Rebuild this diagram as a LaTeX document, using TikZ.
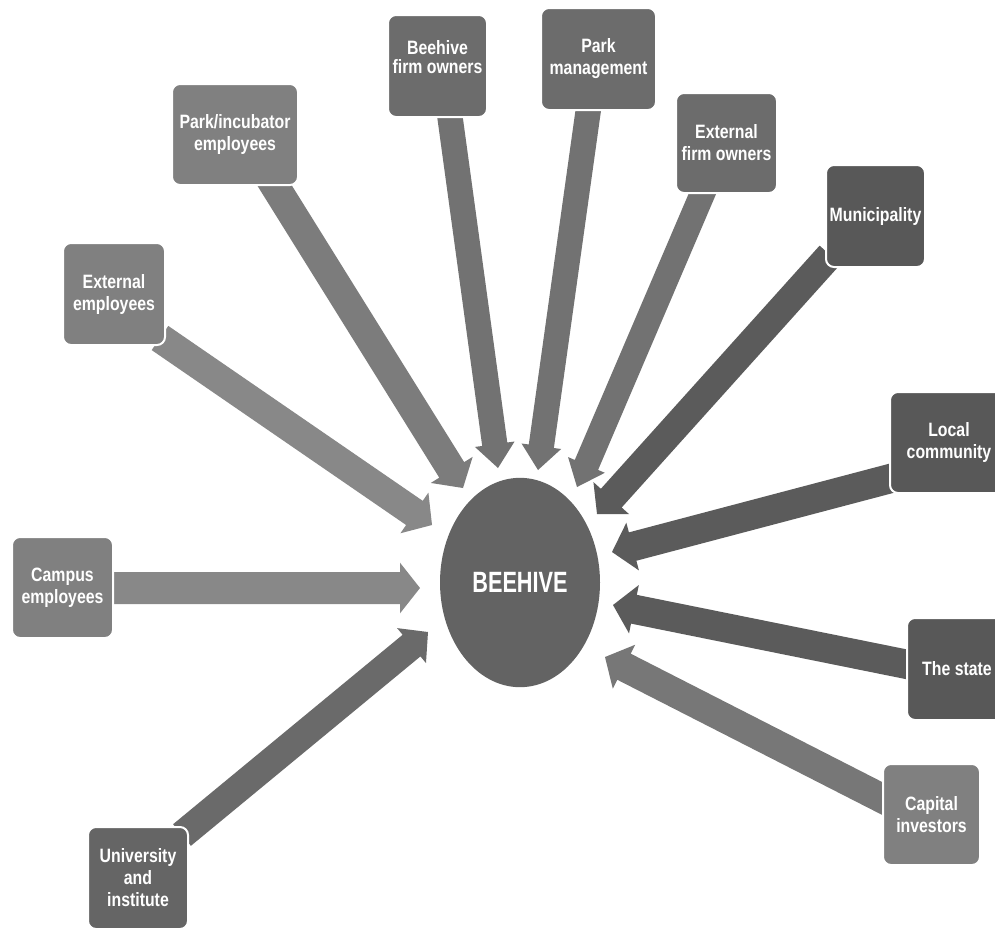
\documentclass[tikz,border=0pt]{standalone}
\usepackage{fontspec}
\newfontfamily\bxf{Liberation Sans}[FakeStretch=0.82]
\newfontfamily\hvf{Liberation Sans}[FakeStretch=0.74]
\usetikzlibrary{calc,shapes.geometric}
\definecolor{bLight}{HTML}{808080}
\definecolor{bMid}{HTML}{6C6C6C}
\definecolor{bUni}{HTML}{656565}
\definecolor{bDark}{HTML}{585858}
\definecolor{hive}{HTML}{636363}
\definecolor{aLight}{HTML}{888888}
\definecolor{aPI}{HTML}{7C7C7C}
\definecolor{aCI}{HTML}{777777}
\definecolor{aMid}{HTML}{727272}
\definecolor{aDark}{HTML}{5B5B5B}
\definecolor{aUni}{HTML}{6A6A6A}
% #1 fill colour, #2 tail, #3 tip, #4 half shaft, #5 half head, #6 head length
\newcommand\blockarrow[6]{%
  \coordinate (ba-b) at ($(#3)!#6!(#2)$);
  \fill[#1] ($(#2)!#4!90:(#3)$) -- ($(ba-b)!#4!90:(#3)$) -- ($(ba-b)!#5!90:(#3)$)
    -- (#3) -- ($(ba-b)!#5!-90:(#3)$) -- ($(ba-b)!#4!-90:(#3)$)
    -- ($(#2)!#4!-90:(#3)$) -- cycle;}
\begin{document}
\begin{tikzpicture}[x=0.75pt,y=0.75pt,
  box/.style={draw=white, line width=1.5pt, rounded corners=6pt, text=white,
    align=center, inner sep=0pt, minimum width=75pt, minimum height=76pt,
    font=\bxf\bfseries\fontsize{14.5}{16.5}\selectfont}]
\clip (0,0) rectangle (995,-929);
\fill[white] (0,0) rectangle (995,-929);

% arrow ends
\coordinate (t-bfo) at (449,-110);  \coordinate (h-bfo) at (498,-468);
\coordinate (t-pm)  at (589,-105);  \coordinate (h-pm)  at (538,-470);
\coordinate (t-efo) at (707,-183);  \coordinate (h-efo) at (577,-487);
\coordinate (t-mun) at (830,-255);  \coordinate (h-mun) at (597,-514);
\coordinate (t-lc)  at (900,-476);  \coordinate (h-lc)  at (612,-552);
\coordinate (t-ts)  at (915,-666);  \coordinate (h-ts)  at (613,-605);
\coordinate (t-ci)  at (895,-805);  \coordinate (h-ci)  at (605,-657);
\coordinate (t-ui)  at (182,-835);  \coordinate (h-ui)  at (428,-632);
\coordinate (t-ce)  at (105,-588);  \coordinate (h-ce)  at (420,-588);
\coordinate (t-ee)  at (160,-338);  \coordinate (h-ee)  at (432,-525);
\coordinate (t-pi)  at (268,-175);  \coordinate (h-pi)  at (463,-488);

% arrows
\blockarrow{aMid}{t-bfo}{h-bfo}{9.5pt}{15pt}{18pt}
\blockarrow{aMid}{t-pm}{h-pm}{9.5pt}{15pt}{18pt}
\blockarrow{aMid}{t-efo}{h-efo}{9.5pt}{15pt}{18pt}
\blockarrow{aDark}{t-mun}{h-mun}{10.5pt}{18pt}{16pt}
\blockarrow{aDark}{t-lc}{h-lc}{11pt}{18.5pt}{16pt}
\blockarrow{aDark}{t-ts}{h-ts}{11pt}{18.5pt}{16pt}
\blockarrow{aCI}{t-ci}{h-ci}{11pt}{18.5pt}{16pt}
\blockarrow{aUni}{t-ui}{h-ui}{10.5pt}{17pt}{16pt}
\blockarrow{aLight}{t-ce}{h-ce}{12pt}{19pt}{15pt}
\blockarrow{aLight}{t-ee}{h-ee}{11pt}{18.5pt}{16pt}
\blockarrow{aPI}{t-pi}{h-pi}{11pt}{18.5pt}{16pt}

% centre
\node[ellipse, fill=hive, inner sep=0pt, minimum width=120pt, minimum height=157pt,
  text=white, font=\hvf\bfseries\fontsize{22}{24}\selectfont] (hive) at (520,-582.5)
  {\raisebox{-3.4pt}{BEEHIVE}};

% boxes
\node[box, fill=bMid, minimum width=74.25pt, minimum height=76.5pt] (bfo) at (437.5,-66)
  {\raisebox{1pt}[0pt][0pt]{\begin{tabular}{@{}c@{}}Beehive\\[-2pt]firm owners\end{tabular}}};
\node[box, fill=bMid, minimum width=86.25pt, minimum height=76.5pt] (pm) at (598.5,-59) {Park\\management};
\node[box, fill=bMid, minimum width=75.75pt, minimum height=75pt] (efo) at (726.5,-143) {External\\firm owners};
\node[box, fill=bLight, minimum width=94.5pt, minimum height=75.75pt] (pi) at (235,-134.5) {Park/incubator\\employees};
\node[box, fill=bLight, minimum width=76.5pt, minimum height=76.5pt] (ee) at (114,-294) {External\\employees};
\node[box, fill=bDark, minimum width=74.25pt, minimum height=76.5pt] (mun) at (875.5,-216) {Municipality};
\node[box, fill=bDark, minimum width=88.5pt, minimum height=75.75pt] (lc) at (949,-442.5) {Local\\community};
\node[box, fill=bDark, minimum width=75pt, minimum height=76.5pt] (ts) at (957,-669) {The state};
\node[box, fill=bLight, minimum width=72.75pt, minimum height=75.75pt] (ci) at (931.5,-814.5) {Capital\\investors};
\node[box, fill=bLight, minimum width=75.75pt, minimum height=75.75pt] (ce) at (62.5,-587.5) {Campus\\employees};
\node[box, fill=bUni, minimum width=75pt, minimum height=76.5pt] (ui) at (138,-878) {University\\and\\institute};
\end{tikzpicture}
\end{document}
